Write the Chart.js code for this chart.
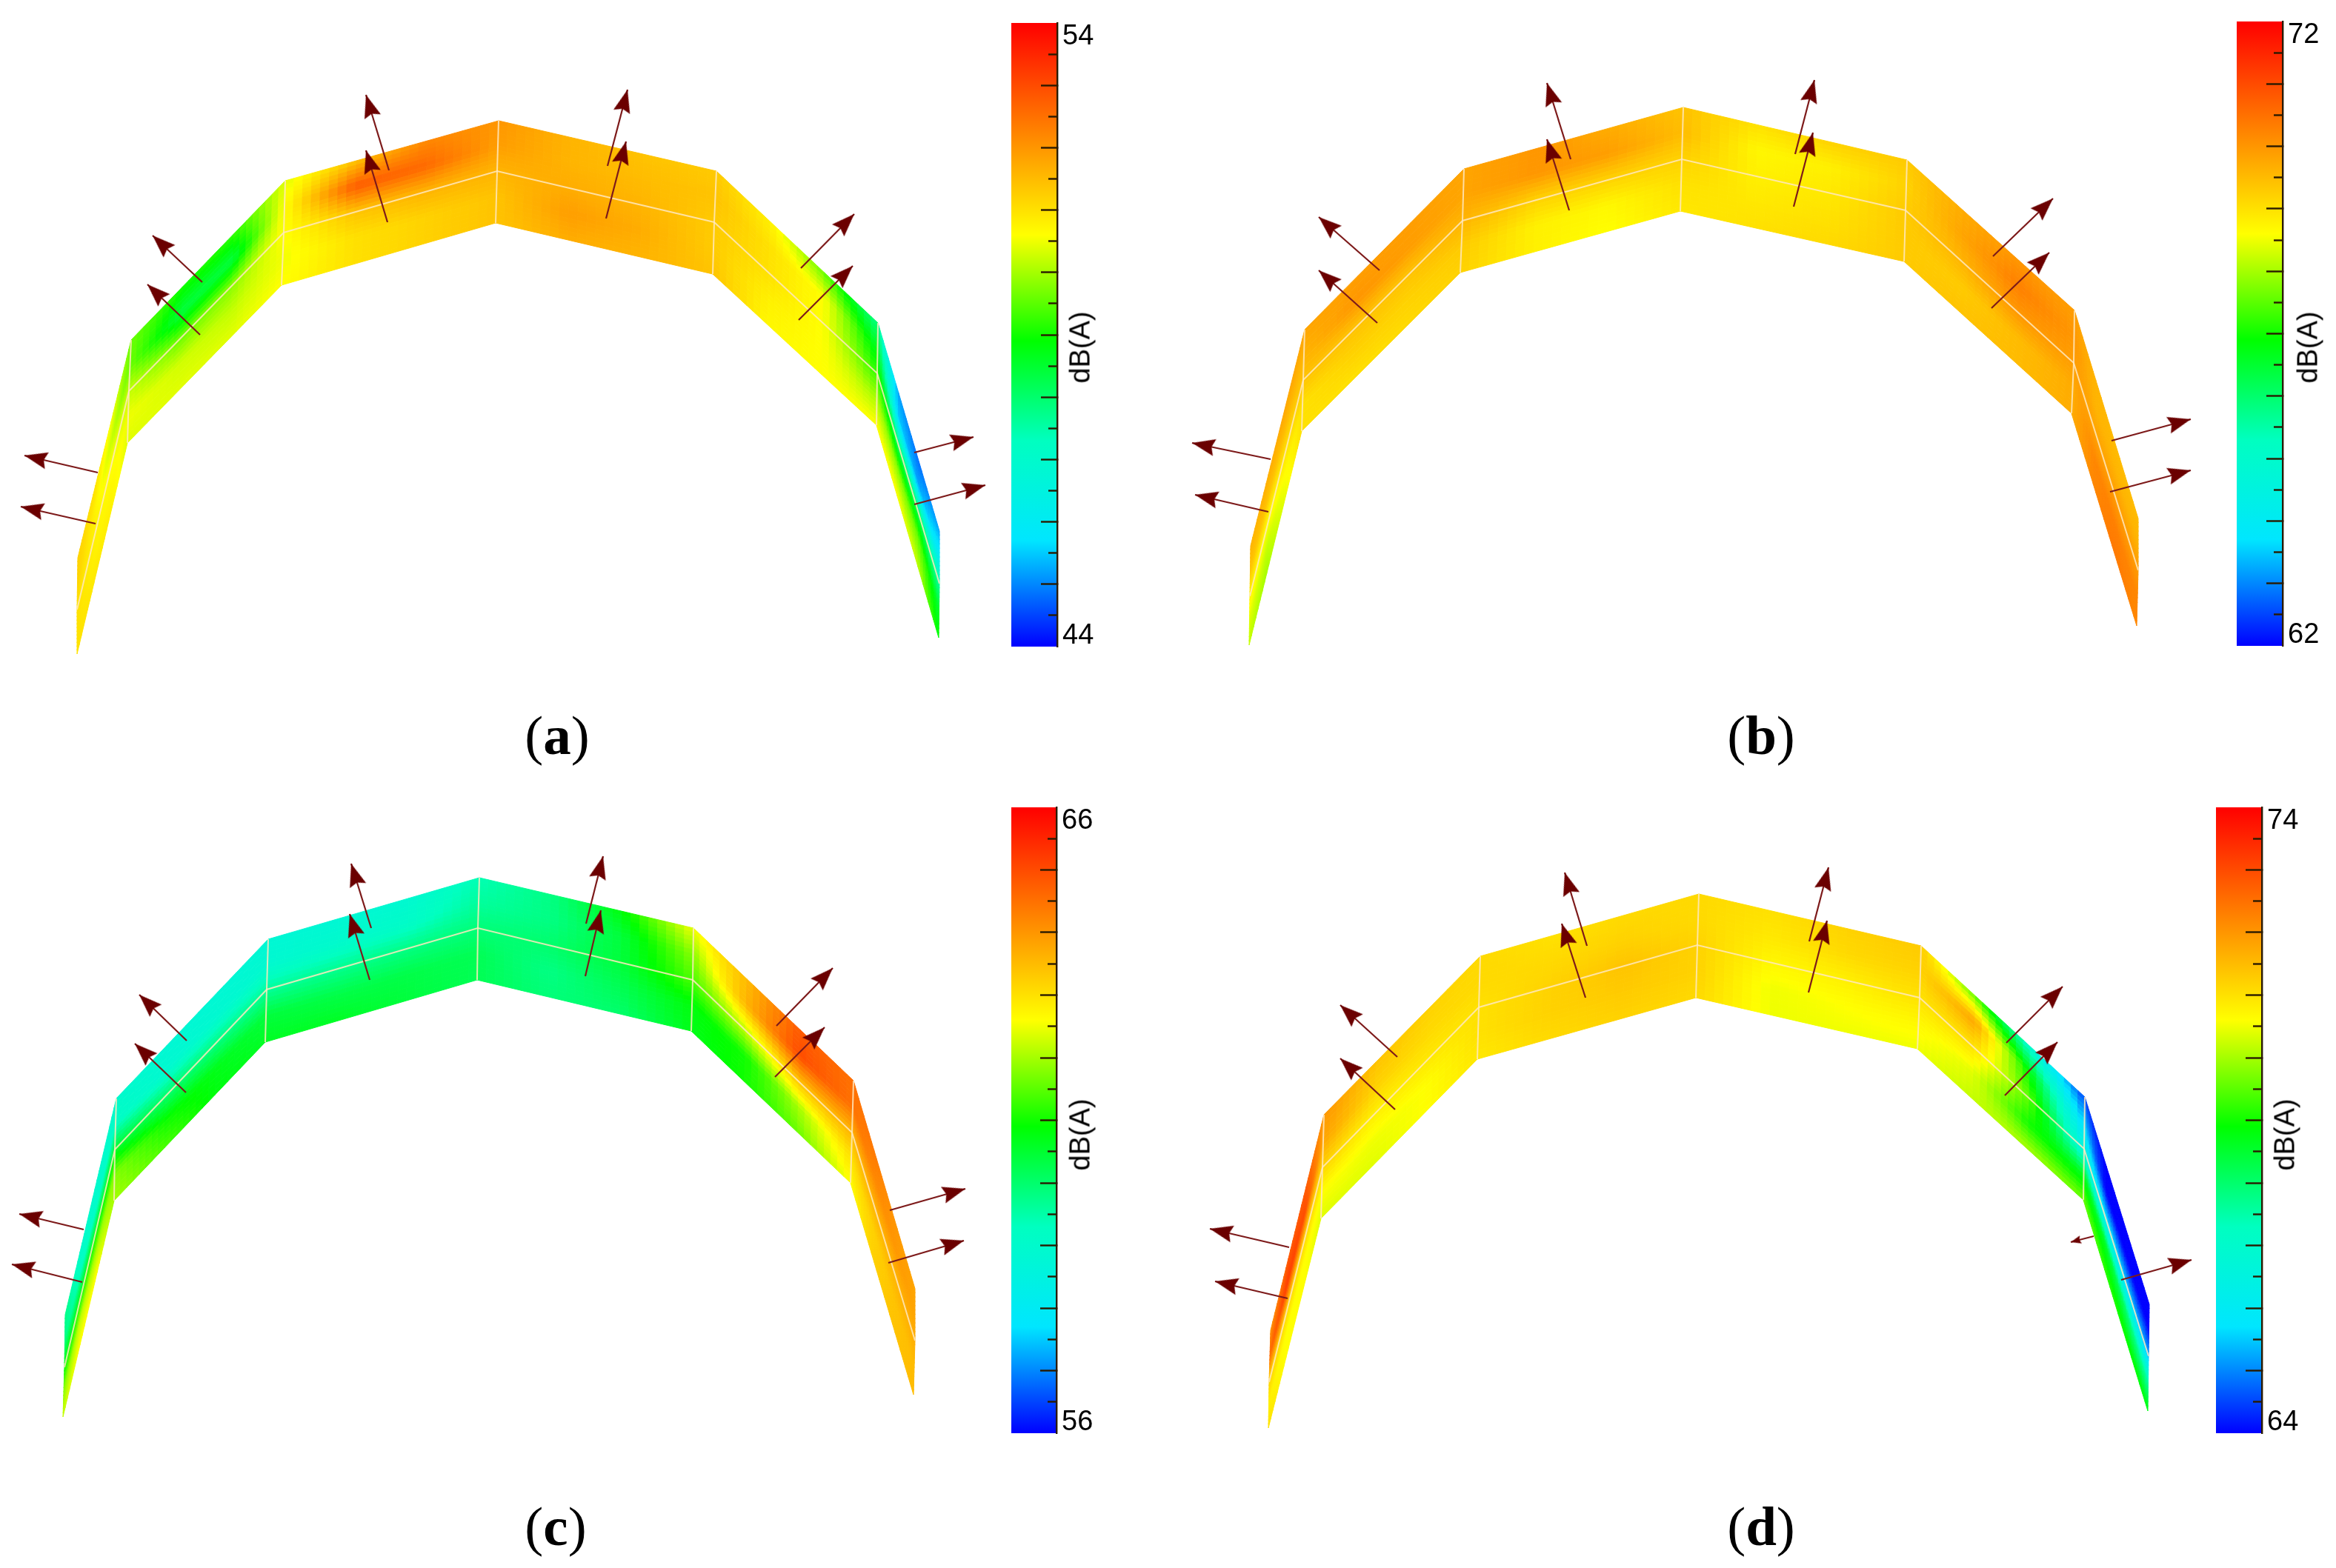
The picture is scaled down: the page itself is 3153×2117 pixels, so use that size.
<!DOCTYPE html>
<html>
<head>
<meta charset="utf-8">
<title>dB(A) surface maps</title>
<script src="https://cdn.jsdelivr.net/npm/chart.js@4/dist/chart.umd.min.js"></script>
<style>
  html, body { margin: 0; padding: 0; background: #fff; }
  body { position: relative; width: 3153px; height: 2117px; overflow: hidden; }
  canvas { position: absolute; }
  .caption { position: absolute; transform: translate(-50%, -50%); font: 75px "Liberation Serif", serif; color: #000; }
  .caption b { font-weight: bold; }
  .unit { position: absolute; transform: translate(-50%, -50%) rotate(-90deg); font: 38px "Liberation Sans", sans-serif; color: #000; white-space: nowrap; }
</style>
</head>
<body>
<script>
// colour scale, fraction of the bar from bottom to top
const colorStops = [0, 0.17, 0.33, 0.49, 0.66, 1];
const colorRgb = [[0, 0, 255], [0, 230, 255], [0, 255, 192], [0, 255, 0], [255, 255, 0], [255, 0, 0]];

// surface corners: top edge, middle seam, bottom edge
const aTop = [[105, 753], [177, 459], [385, 244], [673, 163], [967, 231], [1185, 436], [1268, 717]];
const aMid = [[104, 823], [174, 528], [383, 314], [671, 231], [964, 300], [1184, 504], [1268, 788]];
const aBot = [[104, 883], [172, 598], [380, 385], [669, 301], [962, 370], [1183, 574], [1267, 861]];
const bTop = [[1688, 737], [1761, 445], [1976, 228], [2272, 145], [2574, 216], [2800, 419], [2886, 700]];
const bMid = [[1687, 805], [1759, 513], [1974, 298], [2270, 215], [2572, 284], [2799, 490], [2886, 770]];
const bBot = [[1686, 871], [1757, 582], [1971, 368], [2268, 285], [2570, 353], [2796, 558], [2884, 845]];
const cTop = [[88, 1775], [157, 1483], [362, 1268], [647, 1185], [936, 1253], [1152, 1459], [1235, 1740]];
const cMid = [[87, 1846], [155, 1552], [360, 1336], [645, 1253], [935, 1323], [1150, 1529], [1235, 1810]];
const cBot = [[85, 1913], [154, 1621], [358, 1407], [644, 1323], [933, 1392], [1148, 1597], [1233, 1883]];
const dTop = [[1715, 1796], [1787, 1505], [1998, 1291], [2293, 1207], [2593, 1277], [2814, 1481], [2901, 1761]];
const dMid = [[1713, 1866], [1785, 1576], [1996, 1360], [2291, 1276], [2591, 1347], [2813, 1551], [2900, 1831]];
const dBot = [[1712, 1928], [1783, 1645], [1994, 1430], [2289, 1347], [2588, 1416], [2812, 1620], [2899, 1905]];

// sound level in dB(A): 5 rows across the surface, 19 stations along it
const aLevels = [
  [51.2, 51.0, 50.5, 49.6, 49.0, 49.2, 50.4, 51.4, 52.2, 52.0, 51.6, 51.4, 51.3, 50.8, 49.6, 47.8, 45.2, 44.8, 45.2],
  [51.2, 50.8, 50.2, 49.6, 48.4, 48.4, 50.6, 52.8, 52.6, 51.9, 51.6, 51.5, 51.4, 51.0, 50.6, 48.6, 45.5, 45.2, 46.0],
  [51.0, 50.8, 50.6, 50.2, 49.6, 49.8, 50.6, 51.4, 51.6, 51.6, 51.7, 51.6, 51.3, 51.0, 50.6, 49.2, 48.0, 48.2, 47.5],
  [51.0, 50.8, 50.7, 50.5, 50.3, 50.2, 50.5, 51.0, 51.2, 51.4, 51.9, 51.7, 51.3, 50.8, 50.6, 50.0, 49.8, 49.6, 48.5],
  [51.0, 50.9, 50.8, 50.4, 50.4, 50.4, 50.6, 51.0, 51.2, 51.4, 51.7, 51.6, 51.4, 50.7, 50.6, 50.6, 50.6, 50.2, 48.8]
];
const bLevels = [
  [69.6, 69.7, 69.8, 69.8, 69.9, 69.9, 69.8, 70.0, 69.7, 69.4, 69.0, 69.2, 69.3, 69.7, 70.0, 69.9, 69.6, 69.5, 69.5],
  [69.4, 69.4, 69.5, 69.6, 70.0, 69.9, 69.8, 70.0, 69.9, 69.5, 68.7, 68.8, 69.2, 69.8, 70.3, 70.0, 69.6, 69.6, 69.6],
  [68.8, 68.6, 69.0, 69.4, 69.4, 69.4, 69.6, 69.2, 69.2, 69.2, 68.8, 68.9, 69.3, 69.6, 70.0, 69.9, 69.8, 69.9, 69.9],
  [68.4, 68.2, 68.6, 69.0, 69.2, 69.2, 69.3, 68.8, 68.7, 69.0, 68.9, 69.0, 69.3, 69.3, 69.5, 69.7, 70.2, 70.3, 70.2],
  [68.2, 68.0, 68.4, 69.0, 69.0, 69.1, 69.2, 68.8, 68.6, 68.9, 69.0, 69.1, 69.3, 69.4, 69.5, 69.7, 70.2, 70.4, 70.2]
];
const cLevels = [
  [59.8, 59.0, 59.0, 59.0, 58.8, 58.8, 58.8, 58.8, 58.9, 59.4, 59.8, 60.8, 62.5, 63.5, 64.8, 64.5, 64.4, 64.0, 63.8],
  [59.8, 59.3, 59.0, 59.2, 58.9, 58.9, 58.9, 59.0, 59.1, 59.6, 59.8, 60.4, 61.8, 63.6, 65.0, 64.5, 64.2, 64.0, 63.8],
  [60.8, 60.8, 60.6, 60.5, 60.0, 59.8, 59.6, 59.7, 59.8, 59.9, 60.0, 60.4, 61.4, 62.2, 63.4, 63.6, 63.6, 63.6, 63.7],
  [61.8, 62.2, 62.0, 61.8, 61.0, 60.7, 60.4, 60.3, 60.3, 60.2, 59.8, 60.2, 60.8, 61.0, 62.0, 63.0, 63.2, 63.4, 63.5],
  [62.2, 62.6, 62.6, 62.0, 61.4, 60.8, 60.6, 60.6, 60.4, 60.2, 59.9, 60.0, 60.7, 61.0, 61.6, 62.6, 63.2, 63.4, 63.5]
];
const dLevels = [
  [72.0, 72.8, 72.8, 72.0, 71.4, 71.2, 71.1, 71.0, 71.1, 71.1, 71.0, 71.2, 71.3, 69.5, 67.0, 64.5, 64.0, 64.0, 64.0],
  [72.6, 73.2, 73.0, 71.8, 71.2, 71.1, 71.1, 71.1, 71.2, 71.1, 70.9, 71.1, 71.2, 71.8, 68.8, 65.5, 64.0, 64.0, 64.0],
  [71.2, 71.2, 71.2, 71.2, 70.8, 70.9, 71.0, 71.2, 71.4, 71.2, 70.7, 70.8, 71.0, 71.0, 69.5, 66.5, 65.8, 65.5, 65.2],
  [70.8, 70.6, 70.6, 70.6, 70.5, 70.6, 71.0, 71.2, 71.3, 71.2, 70.5, 70.6, 70.7, 70.4, 69.0, 68.6, 68.6, 68.0, 67.5],
  [71.0, 70.6, 70.6, 70.4, 70.4, 70.6, 70.9, 71.1, 71.2, 71.1, 70.5, 70.5, 70.5, 70.2, 70.0, 69.6, 69.2, 69.0, 68.8]
];

// arrows as tail x, tail y, tip x, tip y
const aArrows = [[132, 638, 33, 615], [129, 707, 28, 684], [273, 381, 206, 318], [270, 452, 199, 384], [525, 230, 494, 128], [523, 300, 494, 203],
  [820, 224, 847, 121], [818, 295, 845, 191], [1081, 362, 1153, 289], [1078, 432, 1151, 359], [1234, 611, 1314, 590], [1234, 681, 1330, 655]];
const bArrows = [[1715, 620, 1609, 598], [1712, 691, 1613, 668], [1862, 365, 1780, 293], [1859, 436, 1780, 365], [2120, 215, 2088, 112], [2118, 284, 2088, 188],
  [2423, 208, 2449, 108], [2421, 279, 2447, 179], [2690, 346, 2771, 268], [2688, 416, 2766, 341], [2850, 595, 2957, 566], [2848, 664, 2957, 635]];
const cArrows = [[113, 1660, 26, 1639], [111, 1731, 16, 1707], [252, 1405, 188, 1343], [251, 1475, 182, 1409], [501, 1253, 474, 1166], [499, 1323, 472, 1234],
  [791, 1247, 814, 1156], [790, 1318, 811, 1229], [1048, 1385, 1124, 1307], [1046, 1454, 1113, 1387], [1201, 1634, 1303, 1605], [1199, 1705, 1301, 1675]];
const dArrows = [[1740, 1684, 1633, 1659], [1738, 1753, 1640, 1730], [1886, 1427, 1809, 1357], [1883, 1498, 1809, 1429], [2142, 1277, 2112, 1178], [2140, 1347, 2108, 1247],
  [2442, 1271, 2468, 1171], [2441, 1340, 2466, 1243], [2708, 1408, 2784, 1332], [2706, 1479, 2777, 1407], [2826, 1669, 2795, 1677], [2863, 1728, 2958, 1701]];

// colour bar ranges
const aRange = [44, 54];
const bRange = [62, 72];
const cRange = [56, 66];
const dRange = [64, 74];

const panels = [
  { name: "a", top: aTop, mid: aMid, bot: aBot, levels: aLevels, arrows: aArrows, range: aRange,
    box: [0, 0, 1360, 1000], bar: [1365, 31, 62, 842], unit: [1458, 469], caption: [752, 993] },
  { name: "b", top: bTop, mid: bMid, bot: bBot, levels: bLevels, arrows: bArrows, range: bRange,
    box: [1580, 0, 1420, 1000], bar: [3019, 29, 62, 843], unit: [3115, 469], caption: [2377, 993] },
  { name: "c", top: cTop, mid: cMid, bot: cBot, levels: cLevels, arrows: cArrows, range: cRange,
    box: [0, 1050, 1360, 950], bar: [1365, 1090, 61, 845], unit: [1458, 1532], caption: [750, 2061] },
  { name: "d", top: dTop, mid: dMid, bot: dBot, levels: dLevels, arrows: dArrows, range: dRange,
    box: [1580, 1050, 1400, 950], bar: [2991, 1090, 62, 845], unit: [3084, 1532], caption: [2377, 2061] }
];

const rampColor = (t) => {
  const f = Math.min(1, Math.max(0, t));
  let i = 0;
  while (i < colorStops.length - 2 && f > colorStops[i + 1]) i++;
  const k = (f - colorStops[i]) / (colorStops[i + 1] - colorStops[i]);
  const c = colorRgb[i].map((v, j) => Math.round(v + (colorRgb[i + 1][j] - v) * k));
  return `rgb(${c[0]},${c[1]},${c[2]})`;
};

const mix = (p, q, k) => [p[0] + (q[0] - p[0]) * k, p[1] + (q[1] - p[1]) * k];

// one node per level reading, placed on the facet it belongs to
const buildNodes = (panel) => {
  const nodes = [];
  panel.levels.forEach((row, r) => {
    row.forEach((level, c) => {
      const facet = Math.min(Math.floor(c / 3), 5);
      const u = (c - facet * 3) / 3;
      const upper = r < 2 ? panel.top : panel.mid;
      const lower = r < 2 ? panel.mid : panel.bot;
      const v = (r % 2) * 0.5;
      const edgeA = mix(upper[facet], lower[facet], r === 4 ? 1 : v);
      const edgeB = mix(upper[facet + 1], lower[facet + 1], r === 4 ? 1 : v);
      const p = mix(edgeA, edgeB, u);
      nodes.push({ x: p[0], y: p[1], level });
    });
  });
  return nodes;
};

// paints the level readings of the mesh dataset as a smooth surface
const surfaceMesh = {
  id: "surfaceMesh",
  beforeDatasetsDraw(chart) {
    const mesh = chart.data.datasets.find((d) => d.meshCols);
    const { x: xs, y: ys } = chart.scales;
    const ctx = chart.ctx;
    const cols = mesh.meshCols;
    const rows = mesh.data.length / cols;
    const span = mesh.range[1] - mesh.range[0];
    const at = (r, c) => {
      const n = mesh.data[r * cols + c];
      return [xs.getPixelForValue(n.x), ys.getPixelForValue(n.y), (n.level - mesh.range[0]) / span];
    };
    const stepsU = 8;
    const stepsV = 6;
    ctx.save();
    ctx.lineWidth = 1;
    for (let r = 0; r < rows - 1; r++) {
      for (let c = 0; c < cols - 1; c++) {
        const a = at(r, c), b = at(r, c + 1), d = at(r + 1, c), e = at(r + 1, c + 1);
        const point = (u, v) => [0, 1, 2].map((i) =>
          (a[i] * (1 - u) + b[i] * u) * (1 - v) + (d[i] * (1 - u) + e[i] * u) * v);
        for (let i = 0; i < stepsU; i++) {
          for (let j = 0; j < stepsV; j++) {
            const p1 = point(i / stepsU, j / stepsV);
            const p2 = point((i + 1) / stepsU, j / stepsV);
            const p3 = point((i + 1) / stepsU, (j + 1) / stepsV);
            const p4 = point(i / stepsU, (j + 1) / stepsV);
            const color = rampColor(point((i + 0.5) / stepsU, (j + 0.5) / stepsV)[2]);
            ctx.fillStyle = color;
            ctx.strokeStyle = color;
            ctx.beginPath();
            ctx.moveTo(p1[0], p1[1]);
            ctx.lineTo(p2[0], p2[1]);
            ctx.lineTo(p3[0], p3[1]);
            ctx.lineTo(p4[0], p4[1]);
            ctx.closePath();
            ctx.fill();
            ctx.stroke();
          }
        }
      }
    }
    ctx.restore();
  },
};

// arrow head with its tip in the middle of the image, so it sits on the data point
const makeHead = (length, width) => {
  const size = Math.ceil(length * 2 + 4);
  const head = document.createElement("canvas");
  head.width = size;
  head.height = size;
  const g = head.getContext("2d");
  const c = size / 2;
  g.fillStyle = "#6b0000";
  g.beginPath();
  g.moveTo(c, c);
  g.lineTo(c + width / 2, c + length);
  g.lineTo(c, c + length * 0.86);
  g.lineTo(c - width / 2, c + length);
  g.closePath();
  g.fill();
  return head;
};
const bigHead = makeHead(31, 23);
const smallHead = makeHead(14, 11);

const makeCanvas = (left, top, width, height) => {
  const canvas = document.createElement("canvas");
  canvas.width = width;
  canvas.height = height;
  canvas.style.left = left + "px";
  canvas.style.top = top + "px";
  canvas.style.width = width + "px";
  canvas.style.height = height + "px";
  document.body.appendChild(canvas);
  return canvas;
};

const toPoints = (list) => list.map((p) => ({ x: p[0], y: p[1] }));

const drawSurface = (panel) => {
  const [left, top, width, height] = panel.box;
  const wire = {
    showLine: true, pointRadius: 0, borderColor: "rgba(255,232,190,0.85)", borderWidth: 2, order: 2,
  };
  const datasets = [
    { label: "levels", data: buildNodes(panel), meshCols: 19, range: panel.range, pointRadius: 0, showLine: false, order: 3 },
    { ...wire, label: "seam", data: toPoints(panel.mid) },
  ];
  for (let c = 1; c < 6; c++) {
    datasets.push({ ...wire, label: "joint", data: toPoints([panel.top[c], panel.mid[c], panel.bot[c]]) });
  }
  panel.arrows.forEach((arrow) => {
    const [x0, y0, x1, y1] = arrow;
    const angle = (Math.atan2(x1 - x0, y0 - y1) * 180) / Math.PI;
    const short = Math.hypot(x1 - x0, y1 - y0) < 60;
    datasets.push({
      label: "arrow",
      data: [{ x: x0, y: y0 }, { x: x1, y: y1 }],
      showLine: true,
      borderColor: "#7d1a1a",
      borderWidth: 2.2,
      pointRadius: [0, 5],
      pointStyle: short ? smallHead : bigHead,
      pointRotation: [0, angle],
      order: 1,
    });
  });
  new Chart(makeCanvas(left, top, width, height), {
    type: "scatter",
    data: { datasets },
    options: {
      animation: false,
      responsive: false,
      events: [],
      layout: { padding: 0, autoPadding: false },
      plugins: { legend: { display: false }, tooltip: { enabled: false } },
      scales: {
        x: { type: "linear", min: left, max: left + width, display: false },
        y: { type: "linear", min: top, max: top + height, reverse: true, display: false },
      },
    },
    plugins: [surfaceMesh],
  });
};

const drawColorBar = (panel) => {
  const [left, top, width, height] = panel.bar;
  const [lo, hi] = panel.range;
  const pad = 10;
  const labelWidth = 110;
  // fixed axis width and no label overhang, so the plot area is exactly the bar
  const fixWidth = (w) => (scale) => {
    scale.width = w;
    scale.paddingTop = 0;
    scale.paddingBottom = 0;
  };
  const inner = (v) => v > lo && v < hi;
  new Chart(makeCanvas(left, top - pad, width + labelWidth, height + pad * 2), {
    type: "bar",
    data: {
      labels: ["dB(A)"],
      datasets: [{
        data: [[lo, hi]],
        yAxisID: "db",
        barPercentage: 1,
        categoryPercentage: 1,
        backgroundColor: (ctx) => {
          const area = ctx.chart.chartArea;
          if (!area) return "#000";
          const g = ctx.chart.ctx.createLinearGradient(0, area.bottom, 0, area.top);
          colorStops.forEach((s) => g.addColorStop(s, rampColor(s)));
          return g;
        },
      }],
    },
    options: {
      animation: false,
      responsive: false,
      events: [],
      layout: { padding: { top: pad, bottom: pad }, autoPadding: false },
      plugins: { legend: { display: false }, tooltip: { enabled: false } },
      scales: {
        x: { display: false },
        // whole dB ticks, long, pointing into the bar
        db: {
          position: "right", min: lo, max: hi,
          ticks: { display: false, stepSize: 1, autoSkip: false },
          afterBuildTicks: (s) => { s.ticks = s.ticks.filter((t) => inner(t.value)); },
          afterFit: fixWidth(0),
          grid: { drawOnChartArea: false, tickLength: -22, tickColor: "#2a1a00", tickWidth: 2.4, z: 1 },
          border: { color: "#2a1a00", width: 2.4, z: 1 },
        },
        // half dB ticks, short
        dbMinor: {
          position: "right", min: lo, max: hi,
          ticks: { display: false, stepSize: 0.5, autoSkip: false },
          afterBuildTicks: (s) => { s.ticks = s.ticks.filter((t) => !Number.isInteger(t.value)); },
          afterFit: fixWidth(0),
          grid: { drawOnChartArea: false, tickLength: -12, tickColor: "#2a1a00", tickWidth: 2.4, z: 1 },
          border: { display: false },
        },
        // end labels sit a little inside the bar ends, so this axis runs slightly wider
        dbLabels: {
          position: "right", min: lo - 0.2, max: hi + 0.2,
          ticks: {
            autoSkip: false, padding: 7, labelOffset: 2, color: "#000",
            font: { family: "'Liberation Sans', sans-serif", size: 38 },
            callback: (v) => String(v),
          },
          afterBuildTicks: (s) => { s.ticks = [{ value: hi }, { value: lo }]; },
          afterFit: fixWidth(labelWidth),
          grid: { display: false, drawTicks: false },
          border: { display: false },
        },
      },
    },
  });
};

const addText = (panel) => {
  const unit = document.createElement("div");
  unit.className = "unit";
  unit.textContent = "dB(A)";
  unit.style.left = panel.unit[0] + "px";
  unit.style.top = panel.unit[1] + "px";
  document.body.appendChild(unit);

  const caption = document.createElement("div");
  caption.className = "caption";
  caption.innerHTML = `(<b>${panel.name}</b>)`;
  caption.style.left = panel.caption[0] + "px";
  caption.style.top = panel.caption[1] + "px";
  document.body.appendChild(caption);
};

panels.forEach((panel) => {
  drawSurface(panel);
  drawColorBar(panel);
  addText(panel);
});
</script>
</body>
</html>
